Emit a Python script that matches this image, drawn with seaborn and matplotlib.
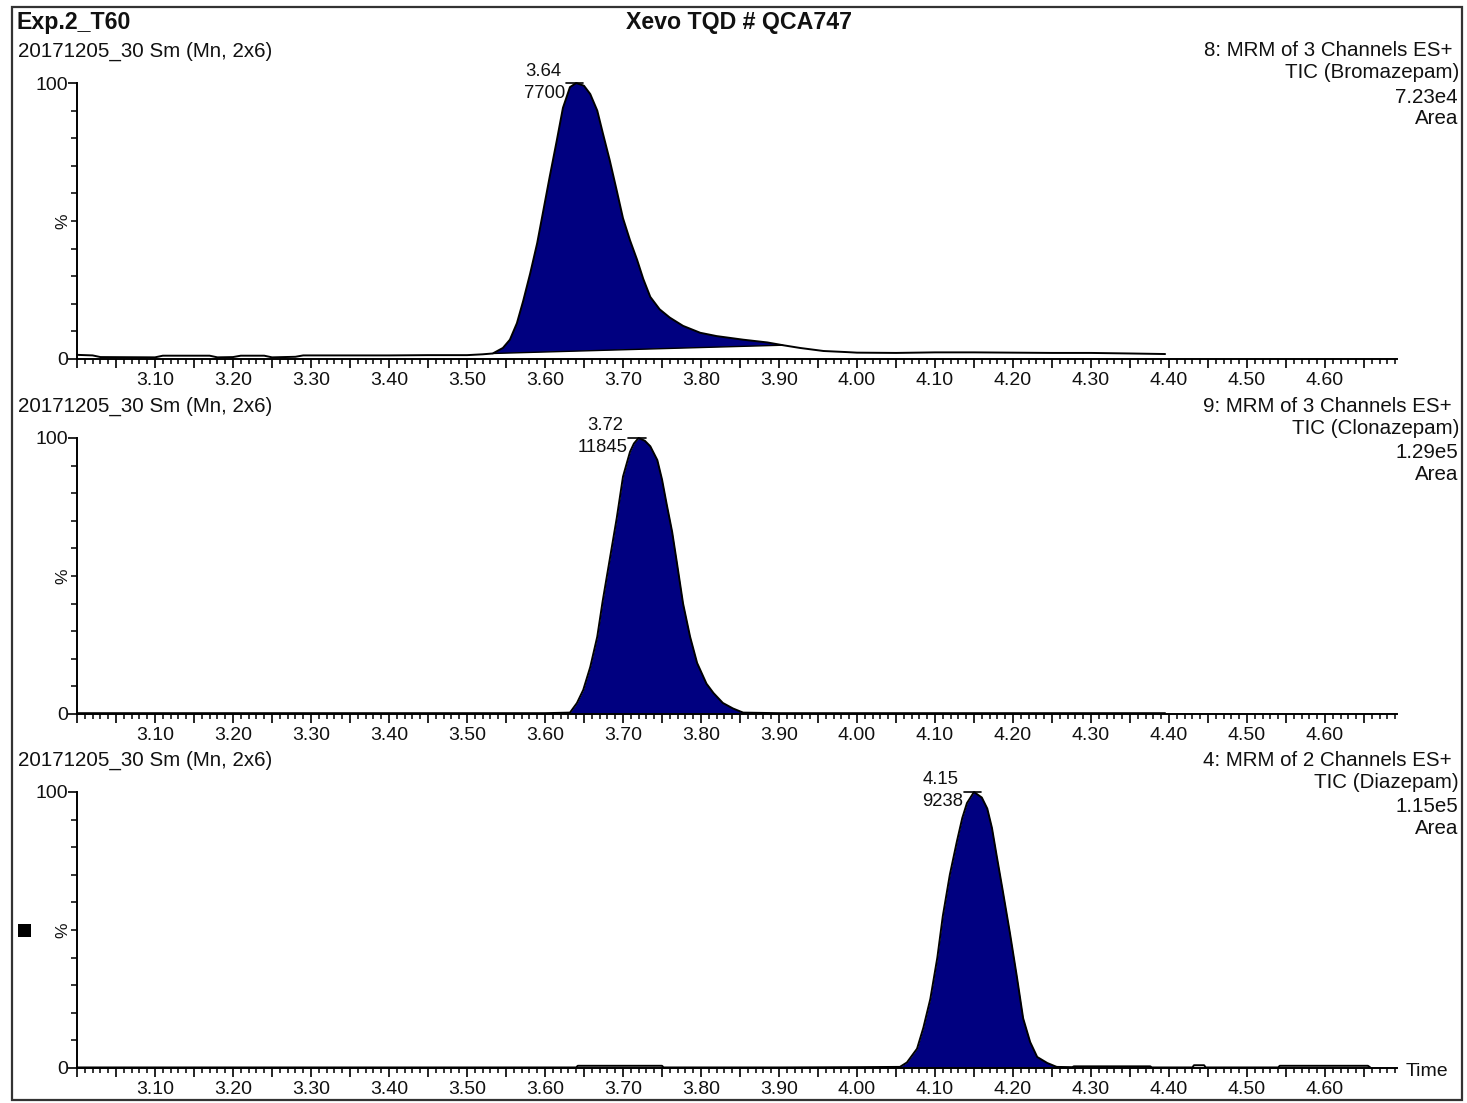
import numpy as np
import pandas as pd
import matplotlib
matplotlib.use("Agg")
import matplotlib.pyplot as plt
import seaborn as sns
from matplotlib.patches import Rectangle
from matplotlib.ticker import FixedLocator, MultipleLocator

# ---------------- data ----------------
title_left = "Exp.2_T60"
title_center = "Xevo TQD # QCA747"
sample_label = "20171205_30 Sm (Mn, 2x6)"

channel_lines = ["8: MRM of 3 Channels ES+", "9: MRM of 3 Channels ES+", "4: MRM of 2 Channels ES+"]
compounds = ["TIC (Bromazepam)", "TIC (Clonazepam)", "TIC (Diazepam)"]
intensities = ["7.23e4", "1.29e5", "1.15e5"]
peak_times = [3.64, 3.72, 4.15]
peak_areas = ["7700", "11845", "9238"]

# Bromazepam trace (time, % intensity)
t_brom = [3.00, 3.02, 3.03, 3.10, 3.11, 3.17, 3.18, 3.20, 3.21, 3.24, 3.25, 3.28, 3.29, 3.35,
          3.40, 3.45, 3.50, 3.52, 3.533, 3.546, 3.555, 3.564, 3.572, 3.581, 3.590, 3.598,
          3.606, 3.615, 3.623, 3.632, 3.640, 3.650, 3.658, 3.667, 3.674, 3.683, 3.692, 3.700,
          3.709, 3.718, 3.726, 3.735, 3.747, 3.760, 3.777, 3.799, 3.820, 3.854, 3.885, 3.905,
          3.927, 3.957, 3.987, 4.00, 4.05, 4.10, 4.15, 4.20, 4.25, 4.30, 4.35, 4.395]
y_brom = [1.5, 1.3, 0.7, 0.6, 1.2, 1.2, 0.6, 0.7, 1.2, 1.2, 0.6, 0.8, 1.3, 1.3,
          1.3, 1.4, 1.4, 1.7, 2.0, 4.0, 7.0, 13, 21, 31, 42, 54,
          66, 79, 91, 98.5, 100, 99, 96, 90, 82, 72, 61, 51,
          43, 36, 29, 22.5, 18, 15, 12, 9.5, 8.3, 7.0, 6.0, 5.0,
          4.0, 2.9, 2.5, 2.3, 2.2, 2.4, 2.4, 2.3, 2.2, 2.2, 2.0, 1.8]
brom_int_start, brom_int_end = 3.533, 3.905
brom_base_start, brom_base_end = 2.0, 5.0

# Clonazepam trace
t_clon = [3.00, 3.10, 3.20, 3.30, 3.40, 3.50, 3.60, 3.632, 3.641, 3.649, 3.658, 3.667, 3.674,
          3.683, 3.692, 3.700, 3.709, 3.714, 3.720, 3.728, 3.735, 3.744, 3.750, 3.756, 3.763,
          3.769, 3.777, 3.786, 3.795, 3.807, 3.816, 3.828, 3.841, 3.854, 3.90, 4.00, 4.10,
          4.20, 4.30, 4.395]
y_clon = [0.3, 0.3, 0.3, 0.3, 0.3, 0.3, 0.3, 0.5, 4, 8.7, 17, 28, 41,
          56, 71, 86, 95, 98, 100, 99, 97, 92, 85, 76, 66,
          55, 40, 28, 18.5, 11, 7.6, 4, 2, 0.5, 0.3, 0.3, 0.3,
          0.3, 0.3, 0.3]
clon_int_start, clon_int_end = 3.632, 3.854

# Diazepam trace
t_diaz = [3.00, 3.20, 3.40, 3.60, 3.640, 3.642, 3.750, 3.752, 3.90, 4.00, 4.055, 4.064, 4.077,
          4.085, 4.094, 4.103, 4.110, 4.119, 4.128, 4.135, 4.141, 4.150, 4.160, 4.167, 4.173,
          4.179, 4.187, 4.196, 4.205, 4.213, 4.222, 4.231, 4.244, 4.256, 4.276, 4.278, 4.376,
          4.378, 4.430, 4.432, 4.445, 4.447, 4.540, 4.542, 4.655, 4.658]
y_diaz = [0.2, 0.2, 0.2, 0.2, 0.2, 0.8, 0.8, 0.2, 0.2, 0.3, 0.4, 2, 7,
          14.5, 25, 40, 55, 70, 82, 90.6, 96, 100, 98, 94, 87,
          77, 64, 49, 33, 18, 9.4, 4, 1.8, 0.4, 0.3, 0.6, 0.6,
          0.2, 0.2, 1.0, 1.0, 0.2, 0.2, 0.8, 0.8, 0.2]
diaz_int_start, diaz_int_end = 4.055, 4.256

x_major = [3.00, 3.05, 3.10, 3.15, 3.20, 3.25, 3.30, 3.35, 3.40, 3.45, 3.50, 3.55, 3.60, 3.65,
           3.70, 3.75, 3.80, 3.85, 3.90, 3.95, 4.00, 4.05, 4.10, 4.15, 4.20, 4.25, 4.30, 4.35,
           4.40, 4.45, 4.50, 4.55, 4.60, 4.65]
x_labels = ["", "", "3.10", "", "3.20", "", "3.30", "", "3.40", "", "3.50", "", "3.60", "",
            "3.70", "", "3.80", "", "3.90", "", "4.00", "", "4.10", "", "4.20", "", "4.30", "",
            "4.40", "", "4.50", "", "4.60", ""]
y_major = [0, 100]
y_minor = [10, 20, 30, 40, 50, 60, 70, 80, 90]

# ---------------- style ----------------
W, H = 1467, 1103
sns.set_theme(style="ticks")
plt.rcParams['font.family'] = ['Liberation Sans', 'DejaVu Sans']
NAVY = "#000080"
TXT = "#111111"

fig = plt.figure(figsize=(W / 100, H / 100), dpi=100)
fig.patch.set_facecolor("white")


def fx(x):
    return x / W


def fy(y):
    return 1 - y / H


XMIN, XMAX = 3.00, 4.6923
AX_L, AX_R = 77, 1397
panels_px = [(83, 359), (438, 714), (792, 1068)]

traces = [
    (t_brom, y_brom, brom_int_start, brom_int_end, (brom_base_start, brom_base_end)),
    (t_clon, y_clon, clon_int_start, clon_int_end, None),
    (t_diaz, y_diaz, diaz_int_start, diaz_int_end, None),
]

for i, (tt, yy, s, e, base) in enumerate(traces):
    top, bot = panels_px[i]
    ax = fig.add_axes([fx(AX_L), fy(bot), (AX_R - AX_L) / W, (bot - top) / H])
    ax.set_facecolor("white")
    ax.set_xlim(XMIN, XMAX)
    ax.set_ylim(0, 100)

    df = pd.DataFrame({"time": tt, "pct": yy})
    seg = df[(df.time >= s - 1e-9) & (df.time <= e + 1e-9)]
    if base is not None:
        px = list(seg.time) + [e, s]
        py = list(seg.pct) + [base[1], base[0]]
        ax.fill(px, py, color=NAVY, lw=0, zorder=2, clip_on=False)
        ax.plot([s, e], [base[0], base[1]], color="black", lw=1.0, zorder=3)
    else:
        ax.fill_between(seg.time, seg.pct, 0, color=NAVY, lw=0, zorder=2, clip_on=False)

    sns.lineplot(data=df, x="time", y="pct", ax=ax, color="black", lw=1.4,
                 estimator=None, sort=False, zorder=4)
    for ln in ax.lines:
        ln.set_clip_on(False)
        ln.set_solid_joinstyle("round")

    pk = peak_times[i]
    ax.plot([pk - 0.013, pk + 0.009], [100, 100], color="black", lw=1.2, clip_on=False, zorder=5)
    ax.annotate(f"{pk:.2f}", xy=(pk, 100), xytext=(-15, 12), textcoords="offset pixels",
                ha="right", va="center", fontsize=13.3, color=TXT)
    ax.annotate(peak_areas[i], xy=(pk, 100), xytext=(-11, -10), textcoords="offset pixels",
                ha="right", va="center", fontsize=13.3, color=TXT)

    ax.set_xlabel("")
    ax.set_ylabel("")
    for sp in ["top", "right"]:
        ax.spines[sp].set_visible(False)
    for sp in ["left", "bottom"]:
        ax.spines[sp].set_color("black")
        ax.spines[sp].set_linewidth(1.4)

    ax.xaxis.set_major_locator(FixedLocator(x_major))
    ax.set_xticklabels(x_labels)
    ax.xaxis.set_minor_locator(MultipleLocator(0.01))
    ax.yaxis.set_major_locator(FixedLocator(y_major))
    ax.set_yticklabels([str(v) for v in y_major])
    ax.yaxis.set_minor_locator(FixedLocator(y_minor))
    ax.tick_params(axis="x", which="major", direction="out", length=6.5, width=1.2,
                   color="black", labelsize=14, pad=3, labelcolor=TXT)
    ax.tick_params(axis="x", which="minor", direction="out", length=3.5, width=1.1, color="black")
    ax.tick_params(axis="y", which="major", direction="out", length=6.5, width=1.2,
                   color="black", labelsize=14, pad=0, labelcolor=TXT)
    ax.tick_params(axis="y", which="minor", direction="out", length=4, width=1.1, color="black")
    ax.grid(False)

    # headers
    fig.text(fx(18), fy(top - 32), sample_label, ha="left", va="center", fontsize=14.8, color=TXT)
    right_lines = [channel_lines[i], compounds[i], intensities[i], "Area"]
    offs = [32, 10, -14, -36]
    rx = [1452, 1459, 1458, 1458]
    for txt, o, x in zip(right_lines, offs, rx):
        fig.text(fx(x), fy(top - o), txt, ha="right", va="center", fontsize=14.8, color=TXT)
    fig.text(fx(63), fy((top + bot) / 2), "%", rotation=90, ha="center", va="center",
             fontsize=12.5, color=TXT)

fig.text(fx(17), fy(23), title_left, ha="left", va="center", fontsize=16.7, fontweight="bold", color=TXT)
fig.text(fx(739), fy(23), title_center, ha="center", va="center", fontsize=16.7, fontweight="bold", color=TXT)
fig.text(fx(1406), fy(1071), "Time", ha="left", va="center", fontsize=14, color=TXT)

fig.add_artist(Rectangle((fx(18), fy(937)), 13 / W, 13 / H, transform=fig.transFigure,
                         facecolor="black", edgecolor="none"))
fig.add_artist(Rectangle((fx(12), fy(1100)), (1462 - 12) / W, (1100 - 7) / H,
                         transform=fig.transFigure, fill=False, edgecolor="#333333", lw=1.6))

fig.savefig("out.png", dpi=100, facecolor="white")
